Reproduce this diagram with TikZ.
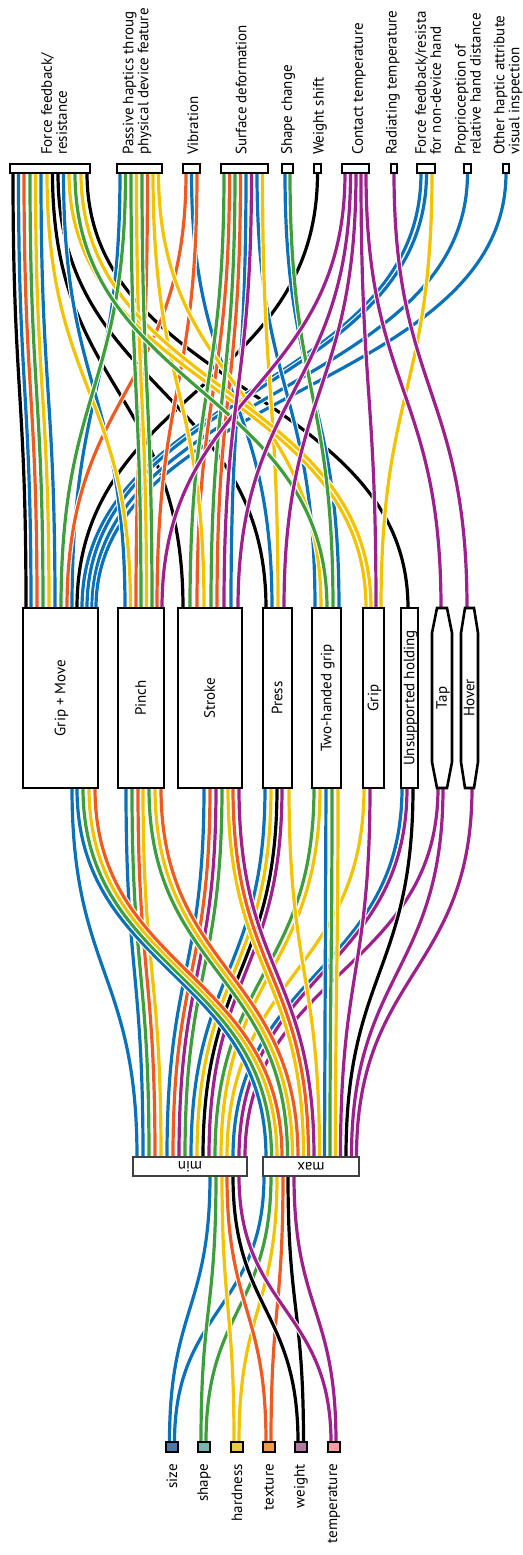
\documentclass[tikz,border=0pt]{standalone}
\usepackage{fontspec}
\setmainfont{PT Sans}
\usepackage{tikz}
\usetikzlibrary{calc, backgrounds}

\definecolor{wblue}{HTML}{0B72B9}
\definecolor{wgreen}{HTML}{3E9E3C}
\definecolor{wyellow}{HTML}{F3C300}
\definecolor{worange}{HTML}{EE5A22}
\definecolor{wpurple}{HTML}{9E208C}
\definecolor{csize}{HTML}{4E79A7}
\definecolor{cshape}{HTML}{76B7B2}
\definecolor{chard}{HTML}{EDC948}
\definecolor{ctext}{HTML}{F29A4A}
\definecolor{cweight}{HTML}{B07AA1}
\definecolor{ctemp}{HTML}{FF9DA7}

\newcommand{\vlabel}[1]{\rotatebox{90}{\makebox[0pt]{\smash{\raisebox{-0.33em}{#1}}}}}

\tikzstyle{feedback} = [rectangle, draw, fill=white, line width=1.4pt,
    anchor=north west, inner sep=0pt, outer sep=0pt, minimum height=9pt]
\tikzstyle{action} = [rectangle, draw, fill=white, line width=2.6pt,
    anchor=north west, inner sep=0pt, outer sep=0pt, minimum height=180pt,
    font=\fontsize{15}{16}\selectfont]
\tikzstyle{rangebox} = [rectangle, draw=black!75, fill=white, line width=1.2pt,
    anchor=north west, inner sep=0pt, outer sep=0pt, minimum height=19pt,
    font=\fontsize{15}{16}\selectfont]
\tikzstyle{attribute} = [rectangle, draw, line width=1.2pt, anchor=north west,
    inner sep=0pt, outer sep=0pt, minimum width=12pt, minimum height=10pt]
\tikzstyle{toplabel} = [rotate=90, anchor=west, align=left, inner sep=0pt,
    font=\fontsize{15}{15}\selectfont]
\tikzstyle{botlabel} = [rotate=90, anchor=east, inner sep=0pt,
    font=\fontsize{15}{16}\selectfont]
\tikzstyle{wire} = [line width=3.2pt, preaction={draw=white, line width=5.4pt},
    to path={let \p1=(\tikztostart), \p2=(\tikztotarget), \p3=($(\p1)!0.5!(\p2)$) in
      .. controls (\x1,\y3) and (\x2,\y3) .. (\tikztotarget)}]

\begin{document}
\begin{tikzpicture}[x=1pt, y=-1pt]
    \useasboundingbox (0,0) rectangle (522,1555);

    % Feedback boxes
    \node [feedback, minimum width=80pt] (ff) at (10,164) {};
    \node [feedback, minimum width=45pt] (pas) at (117,164) {};
    \node [feedback, minimum width=17pt] (vib) at (183,164) {};
    \node [feedback, minimum width=47pt] (sdef) at (221,164) {};
    \node [feedback, minimum width=11pt] (shp) at (282,164) {};
    \node [feedback, minimum width=7pt] (wsh) at (314,164) {};
    \node [feedback, minimum width=27pt] (ctemp) at (342,164) {};
    \node [feedback, minimum width=6pt] (rtemp) at (391,164) {};
    \node [feedback, minimum width=18pt] (ffnd) at (417,164) {};
    \node [feedback, minimum width=7pt] (prop) at (464,164) {};
    \node [feedback, minimum width=6pt] (oth) at (503,164) {};

    % Feedback labels
    \node [toplabel] (ffl) at (54,155) {Force feedback/\\resistance};
    \node [toplabel] (pasl) at (137,155) {Passive haptics throug\\physical device feature};
    \node [toplabel] (vibl) at (193,155) {Vibration};
    \node [toplabel] (sdefl) at (241,155) {Surface deformation};
    \node [toplabel] (shpl) at (288,155) {Shape change};
    \node [toplabel] (wshl) at (320,155) {Weight shift};
    \node [toplabel] (ctempl) at (359,155) {Contact temperature};
    \node [toplabel] (rtempl) at (393,155) {Radiating temperature};
    \node [toplabel] (ffndl) at (428,155) {Force feedback/resista\\for non-device hand};
    \node [toplabel] (propl) at (468,155) {Proprioception of\\relative hand distance};
    \node [toplabel] (othl) at (508,155) {Other haptic attribute\\visual inspection};

    % Action boxes
    \node [action, minimum width=75pt] (gm) at (23,608) {\vlabel{Grip + Move}};
    \node [action, minimum width=46pt] (pinch) at (118,608) {\vlabel{Pinch}};
    \node [action, minimum width=64pt] (strk) at (178,608) {\vlabel{Stroke}};
    \node [action, minimum width=29pt] (press) at (263,608) {\vlabel{Press}};
    \node [action, minimum width=29pt] (thg) at (312,608) {\vlabel{Two-handed grip}};
    \node [action, minimum width=21pt] (grip) at (363,608) {\vlabel{Grip}};
    \node [action, minimum width=17pt] (unsup) at (401,608) {\vlabel{Unsupported holding}};
    \node [action, draw=none, fill=none, minimum width=20pt] (tap) at (432,608) {\vlabel{Tap}};
    \node [action, draw=none, fill=none, minimum width=17pt] (hover) at (461,608) {\vlabel{Hover}};
    \draw [line width=2.6pt] ([xshift=5pt]tap.north west) -- ([xshift=-5pt]tap.north east)
        -- ([yshift=-25pt]tap.north east) -- ([yshift=26pt]tap.south east)
        -- ([xshift=-5pt]tap.south east) -- ([xshift=5pt]tap.south west)
        -- ([yshift=26pt]tap.south west) -- ([yshift=-25pt]tap.north west) -- cycle;
    \draw [line width=2.6pt] ([xshift=4pt]hover.north west) -- ([xshift=-4pt]hover.north east)
        -- ([yshift=-25pt]hover.north east) -- ([yshift=26pt]hover.south east)
        -- ([xshift=-4pt]hover.south east) -- ([xshift=4pt]hover.south west)
        -- ([yshift=26pt]hover.south west) -- ([yshift=-25pt]hover.north west) -- cycle;

    % Range boxes
    \node [rangebox, minimum width=114pt] (minb) at (133,1157) {\rotatebox{180}{min}};
    \node [rangebox, minimum width=96pt] (maxb) at (263,1157) {\rotatebox{180}{max}};

    % Attributes
    \node [attribute, fill=csize] (size) at (166,1442) {};
    \node [attribute, fill=cshape] (shape) at (198,1442) {};
    \node [attribute, fill=chard] (hard) at (231,1442) {};
    \node [attribute, fill=ctext] (text) at (263,1442) {};
    \node [attribute, fill=cweight] (weight) at (295,1442) {};
    \node [attribute, fill=ctemp] (temp) at (328,1442) {};
    \node [botlabel] (sizel) at (172,1464) {size};
    \node [botlabel] (shapel) at (204,1464) {shape};
    \node [botlabel] (hardl) at (237,1464) {hardness};
    \node [botlabel] (textl) at (269,1464) {texture};
    \node [botlabel] (weightl) at (301,1464) {weight};
    \node [botlabel] (templ) at (334,1464) {temperature};

    \begin{pgfonlayer}{background}
    % Edges: actions to feedback
    \path [wire, draw=black] (gm.north -| 26,0) to (ff.south -| 13,0);
    \path [wire, draw=black] (gm.north -| 77,0) to (wsh.south -| 317.5,0);
    \path [wire, draw=black] (strk.north -| 183,0) to (ff.south -| 52.5,0);
    \path [wire, draw=black] (press.north -| 266,0) to (ff.south -| 58,0);
    \path [wire, draw=black] (unsup.north -| 408,0) to (ff.south -| 87,0);
    \path [wire, draw=wblue] (gm.north -| 31,0) to (ff.south -| 18.5,0);
    \path [wire, draw=wblue] (gm.north -| 55,0) to (ff.south -| 41,0);
    \path [wire, draw=wblue] (gm.north -| 72,0) to (pas.south -| 120,0);
    \path [wire, draw=wblue] (gm.north -| 82,0) to (ffnd.south -| 421,0);
    \path [wire, draw=wblue] (gm.north -| 87,0) to (ffnd.south -| 426.5,0);
    \path [wire, draw=wblue] (gm.north -| 92,0) to (prop.south -| 467.5,0);
    \path [wire, draw=wblue] (gm.north -| 96,0) to (oth.south -| 506,0);
    \path [wire, draw=wblue] (pinch.north -| 125,0) to (ff.south -| 63.5,0);
    \path [wire, draw=wblue] (strk.north -| 231,0) to (sdef.south -| 246,0);
    \path [wire, draw=wblue] (press.north -| 272,0) to (vib.south -| 191.5,0);
    \path [wire, draw=wblue] (thg.north -| 315,0) to (sdef.south -| 257,0);
    \path [wire, draw=wblue] (thg.north -| 339,0) to (shp.south -| 285,0);
    \path [wire, draw=worange] (gm.north -| 37,0) to (ff.south -| 24,0);
    \path [wire, draw=worange] (gm.north -| 67,0) to (vib.south -| 186,0);
    \path [wire, draw=worange] (pinch.north -| 136,0) to (pas.south -| 147.5,0);
    \path [wire, draw=worange] (pinch.north -| 157,0) to (vib.south -| 197,0);
    \path [wire, draw=worange] (strk.north -| 197,0) to (sdef.south -| 229.5,0);
    \path [wire, draw=worange] (strk.north -| 217,0) to (sdef.south -| 240.5,0);
    \path [wire, draw=wyellow] (gm.north -| 49,0) to (ff.south -| 35.5,0);
    \path [wire, draw=wyellow] (pinch.north -| 130.5,0) to (ff.south -| 47,0);
    \path [wire, draw=wyellow] (pinch.north -| 146.5,0) to (pas.south -| 136.5,0);
    \path [wire, draw=wyellow] (strk.north -| 204,0) to (pas.south -| 153,0);
    \path [wire, draw=wyellow] (press.north -| 278,0) to (sdef.south -| 262.5,0);
    \path [wire, draw=wyellow] (thg.north -| 321,0) to (pas.south -| 158.5,0);
    \path [wire, draw=wyellow] (grip.north -| 366,0) to (ff.south -| 69,0);
    \path [wire, draw=wyellow] (grip.north -| 371,0) to (ff.south -| 81,0);
    \path [wire, draw=wyellow] (grip.north -| 381,0) to (ffnd.south -| 432,0);
    \path [wire, draw=wgreen] (gm.north -| 43,0) to (ff.south -| 30,0);
    \path [wire, draw=wgreen] (gm.north -| 61,0) to (pas.south -| 125.5,0);
    \path [wire, draw=wgreen] (pinch.north -| 141,0) to (pas.south -| 131,0);
    \path [wire, draw=wgreen] (pinch.north -| 152,0) to (pas.south -| 142,0);
    \path [wire, draw=wgreen] (strk.north -| 190,0) to (sdef.south -| 224,0);
    \path [wire, draw=wgreen] (strk.north -| 211,0) to (sdef.south -| 235,0);
    \path [wire, draw=wgreen] (thg.north -| 327,0) to (ff.south -| 75,0);
    \path [wire, draw=wgreen] (thg.north -| 333,0) to (shp.south -| 290,0);
    \path [wire, draw=wpurple] (pinch.north -| 162,0) to (ctemp.south -| 345,0);
    \path [wire, draw=wpurple] (strk.north -| 224,0) to (sdef.south -| 251.5,0);
    \path [wire, draw=wpurple] (strk.north -| 238,0) to (ctemp.south -| 350.5,0);
    \path [wire, draw=wpurple] (press.north -| 284,0) to (ctemp.south -| 356,0);
    \path [wire, draw=wpurple] (grip.north -| 376,0) to (ctemp.south -| 361,0);
    \path [wire, draw=wpurple] (tap.north -| 441,0) to (ctemp.south -| 366,0);
    \path [wire, draw=wpurple] (hover.north -| 467,0) to (rtemp.south -| 394,0);

    % Edges: min to actions
    \path [wire, draw=wblue] (minb.north -| 137,0) to (gm.south -| 72,0);
    \path [wire, draw=wblue] (minb.north -| 143,0) to (pinch.south -| 126,0);
    \path [wire, draw=wgreen] (minb.north -| 149,0) to (pinch.south -| 132,0);
    \path [wire, draw=worange] (minb.north -| 155,0) to (pinch.south -| 138,0);
    \path [wire, draw=wyellow] (minb.north -| 161,0) to (pinch.south -| 143,0);
    \path [wire, draw=wblue] (minb.north -| 167,0) to (strk.south -| 204,0);
    \path [wire, draw=worange] (minb.north -| 173,0) to (strk.south -| 210,0);
    \path [wire, draw=wpurple] (minb.north -| 179,0) to (strk.south -| 216,0);
    \path [wire, draw=wgreen] (minb.north -| 185,0) to (strk.south -| 222,0);
    \path [wire, draw=wblue] (minb.north -| 191,0) to (press.south -| 265,0);
    \path [wire, draw=wyellow] (minb.north -| 197,0) to (press.south -| 271,0);
    \path [wire, draw=black] (minb.north -| 203,0) to (press.south -| 277,0);
    \path [wire, draw=wpurple] (minb.north -| 209,0) to (press.south -| 282,0);
    \path [wire, draw=wgreen] (minb.north -| 215,0) to (thg.south -| 314,0);
    \path [wire, draw=wyellow] (minb.north -| 221,0) to (thg.south -| 320,0);
    \path [wire, draw=wyellow] (minb.north -| 227,0) to (grip.south -| 364,0);
    \path [wire, draw=wblue] (minb.north -| 233,0) to (unsup.south -| 402,0);
    \path [wire, draw=wpurple] (minb.north -| 239,0) to (unsup.south -| 407,0);
    \path [wire, draw=wpurple] (minb.north -| 245,0) to (tap.south -| 438,0);

    % Edges: max to actions
    \path [wire, draw=wblue] (maxb.north -| 266,0) to (gm.south -| 77,0);
    \path [wire, draw=wgreen] (maxb.north -| 271.5,0) to (gm.south -| 83,0);
    \path [wire, draw=wyellow] (maxb.north -| 277,0) to (gm.south -| 89,0);
    \path [wire, draw=worange] (maxb.north -| 282,0) to (gm.south -| 95,0);
    \path [wire, draw=wgreen] (maxb.north -| 287.5,0) to (pinch.south -| 149,0);
    \path [wire, draw=wyellow] (maxb.north -| 292.5,0) to (pinch.south -| 155,0);
    \path [wire, draw=worange] (maxb.north -| 298,0) to (pinch.south -| 161,0);
    \path [wire, draw=wyellow] (maxb.north -| 303.5,0) to (strk.south -| 228,0);
    \path [wire, draw=worange] (maxb.north -| 308.5,0) to (strk.south -| 233,0);
    \path [wire, draw=wpurple] (maxb.north -| 314,0) to (strk.south -| 239,0);
    \path [wire, draw=wyellow] (maxb.north -| 319.5,0) to (press.south -| 289,0);
    \path [wire, draw=wblue] (maxb.north -| 324.5,0) to (thg.south -| 326,0);
    \path [wire, draw=wgreen] (maxb.north -| 330,0) to (thg.south -| 332,0);
    \path [wire, draw=wyellow] (maxb.north -| 335.5,0) to (thg.south -| 338,0);
    \path [wire, draw=wpurple] (maxb.north -| 340.5,0) to (grip.south -| 370,0);
    \path [wire, draw=black] (maxb.north -| 346,0) to (unsup.south -| 413,0);
    \path [wire, draw=wpurple] (maxb.north -| 351.5,0) to (tap.south -| 443,0);
    \path [wire, draw=wpurple] (maxb.north -| 356.5,0) to (hover.south -| 472,0);

    % Edges: attributes to min and max
    \path [wire, draw=wblue] (size.north -| 169.5,0) to (minb.south -| 210,0);
    \path [wire, draw=wblue] (size.north -| 174.5,0) to (maxb.south -| 264,0);
    \path [wire, draw=wgreen] (shape.north -| 201,0) to (minb.south -| 216,0);
    \path [wire, draw=wgreen] (shape.north -| 206,0) to (maxb.south -| 271,0);
    \path [wire, draw=wyellow] (hard.north -| 234,0) to (minb.south -| 222,0);
    \path [wire, draw=wyellow] (hard.north -| 239,0) to (maxb.south -| 277,0);
    \path [wire, draw=worange] (text.north -| 266,0) to (minb.south -| 227,0);
    \path [wire, draw=worange] (text.north -| 271,0) to (maxb.south -| 283,0);
    \path [wire, draw=black] (weight.north -| 298,0) to (minb.south -| 233,0);
    \path [wire, draw=black] (weight.north -| 303.5,0) to (maxb.south -| 288,0);
    \path [wire, draw=wpurple] (temp.north -| 331,0) to (minb.south -| 239,0);
    \path [wire, draw=wpurple] (temp.north -| 336,0) to (maxb.south -| 294,0);
    \end{pgfonlayer}

\end{tikzpicture}
\end{document}
